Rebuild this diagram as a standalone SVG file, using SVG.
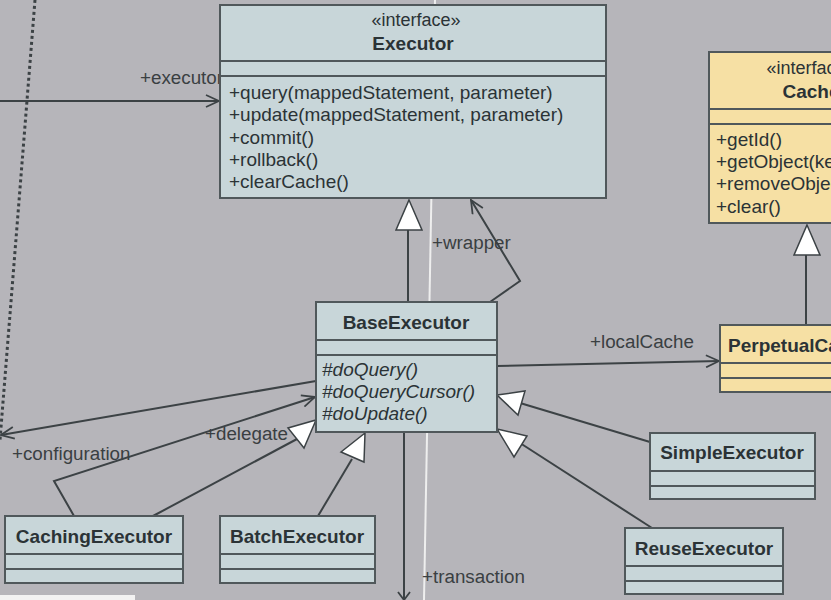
<svg xmlns="http://www.w3.org/2000/svg" width="831" height="600" viewBox="0 0 831 600">
<defs>
<style>
.box{fill:#c8d6d9;stroke:#50585b;stroke-width:2}
.ybox{fill:#f6e0a4;stroke:#50585b;stroke-width:2}
.sep{stroke:#50585b;stroke-width:2}
.t{font-family:"Liberation Sans",Arial,sans-serif;font-size:19px;fill:#2b3336}
.b{font-weight:bold;font-size:19px}
.i{font-style:italic}
.s{font-size:18px}
.lbl{font-family:"Liberation Sans",Arial,sans-serif;font-size:18.8px;fill:#3a3f42}
.ln{stroke:#3c4245;stroke-width:2;fill:none}
.tri{fill:#ffffff;stroke:#3c4245;stroke-width:1.5}
</style>
<marker id="open" markerWidth="16" markerHeight="14" refX="14" refY="7" orient="auto" markerUnits="userSpaceOnUse">
<path d="M1,1 L14,7 L1,13" fill="none" stroke="#3c4245" stroke-width="1.8"/>
</marker>
</defs>
<rect width="831" height="600" fill="#b6b5ba"/>
<line x1="435" y1="0" x2="424" y2="600" stroke="#eeeeee" stroke-width="2"/>
<rect x="0" y="595" width="135" height="5" fill="#f2f2f2"/>

<g id="connectors">
<line x1="35" y1="0" x2="0" y2="440" stroke="#3c4245" stroke-width="3" stroke-dasharray="3,3"/>
<line class="ln" x1="0" y1="101" x2="219" y2="101" marker-end="url(#open)"/>
<text class="lbl" x="140" y="84">+executor</text>
<line class="ln" x1="316" y1="381" x2="1" y2="435" marker-end="url(#open)"/>
<text class="lbl" x="12" y="460">+configuration</text>
<polyline class="ln" points="74,516 54,481 315,397" marker-end="url(#open)"/>
<text class="lbl" x="205" y="440">+delegate</text>
<line class="ln" x1="153" y1="516" x2="297" y2="439"/>
<polygon class="tri" points="316,420 304,448 288,428"/>
<line class="ln" x1="318" y1="516" x2="352" y2="459"/>
<polygon class="tri" points="365,433 364,462 341,452"/>
<line class="ln" x1="650" y1="442" x2="520" y2="403"/>
<polygon class="tri" points="497,395 525,391 518,415"/>
<line class="ln" x1="652" y1="528" x2="520" y2="443"/>
<polygon class="tri" points="497,429 527,436 514,457"/>
<line class="ln" x1="408" y1="302" x2="408" y2="230"/>
<polygon class="tri" points="409,200 422,230 396,230"/>
<polyline class="ln" points="490,302 520,281 471,200" marker-end="url(#open)"/>
<text class="lbl" x="432" y="249">+wrapper</text>
<line class="ln" x1="497" y1="366" x2="719" y2="361" marker-end="url(#open)"/>
<text class="lbl" x="590" y="348">+localCache</text>
<line class="ln" x1="806" y1="325" x2="806" y2="255"/>
<polygon class="tri" points="807,225 820,255 794,255"/>
<line class="ln" x1="404" y1="432" x2="404" y2="600"/>
<path d="M398,592 L404,600 L410,592" fill="none" stroke="#3c4245" stroke-width="1.8"/>
<text class="lbl" x="422" y="583">+transaction</text>
</g>

<g id="Executor">
<rect class="box" x="220" y="5" width="386" height="193"/>
<line class="sep" x1="220" y1="61" x2="606" y2="61"/>
<line class="sep" x1="220" y1="76" x2="606" y2="76"/>
<text class="t s" x="416" y="26" text-anchor="middle">«interface»</text>
<text class="t b" x="413" y="50" text-anchor="middle">Executor</text>
<text class="t" x="229" y="99">+query(mappedStatement, parameter)</text>
<text class="t" x="229" y="121">+update(mappedStatement, parameter)</text>
<text class="t" x="229" y="144">+commit()</text>
<text class="t" x="229" y="166">+rollback()</text>
<text class="t" x="229" y="188">+clearCache()</text>
</g>

<g id="Cache">
<rect class="ybox" x="709" y="52" width="210" height="171"/>
<line class="sep" x1="709" y1="109" x2="919" y2="109"/>
<line class="sep" x1="709" y1="124" x2="919" y2="124"/>
<text class="t s" x="811" y="74" text-anchor="middle">«interface»</text>
<text class="t b" x="811" y="98" text-anchor="middle">Cache</text>
<text class="t" x="716" y="146">+getId()</text>
<text class="t" x="716" y="168">+getObject(key)</text>
<text class="t" x="716" y="190">+removeObject(key)</text>
<text class="t" x="716" y="213">+clear()</text>
</g>

<g id="BaseExecutor">
<rect class="box" x="316" y="302" width="181" height="130"/>
<line class="sep" x1="316" y1="340" x2="497" y2="340"/>
<line class="sep" x1="316" y1="355" x2="497" y2="355"/>
<text class="t b" x="406" y="329" text-anchor="middle">BaseExecutor</text>
<text class="t i" x="322" y="376">#doQuery()</text>
<text class="t i" x="322" y="398">#doQueryCursor()</text>
<text class="t i" x="322" y="420">#doUpdate()</text>
</g>

<g id="PerpetualCache">
<rect class="ybox" x="720" y="325" width="170" height="67"/>
<line class="sep" x1="720" y1="363" x2="890" y2="363"/>
<line class="sep" x1="720" y1="378" x2="890" y2="378"/>
<text class="t b" x="728" y="352">PerpetualCache</text>
</g>

<g id="SimpleExecutor">
<rect class="box" x="650" y="433" width="165" height="66"/>
<line class="sep" x1="650" y1="471" x2="815" y2="471"/>
<line class="sep" x1="650" y1="486" x2="815" y2="486"/>
<text class="t b" x="732" y="459" text-anchor="middle">SimpleExecutor</text>
</g>

<g id="ReuseExecutor">
<rect class="box" x="625" y="528" width="158" height="66"/>
<line class="sep" x1="625" y1="566" x2="783" y2="566"/>
<line class="sep" x1="625" y1="581" x2="783" y2="581"/>
<text class="t b" x="704" y="555" text-anchor="middle">ReuseExecutor</text>
</g>

<g id="CachingExecutor">
<rect class="box" x="5" y="516" width="178" height="67"/>
<line class="sep" x1="5" y1="554" x2="183" y2="554"/>
<line class="sep" x1="5" y1="569" x2="183" y2="569"/>
<text class="t b" x="94" y="543" text-anchor="middle">CachingExecutor</text>
</g>

<g id="BatchExecutor">
<rect class="box" x="220" y="516" width="155" height="67"/>
<line class="sep" x1="220" y1="554" x2="375" y2="554"/>
<line class="sep" x1="220" y1="569" x2="375" y2="569"/>
<text class="t b" x="297" y="543" text-anchor="middle">BatchExecutor</text>
</g>
</svg>
